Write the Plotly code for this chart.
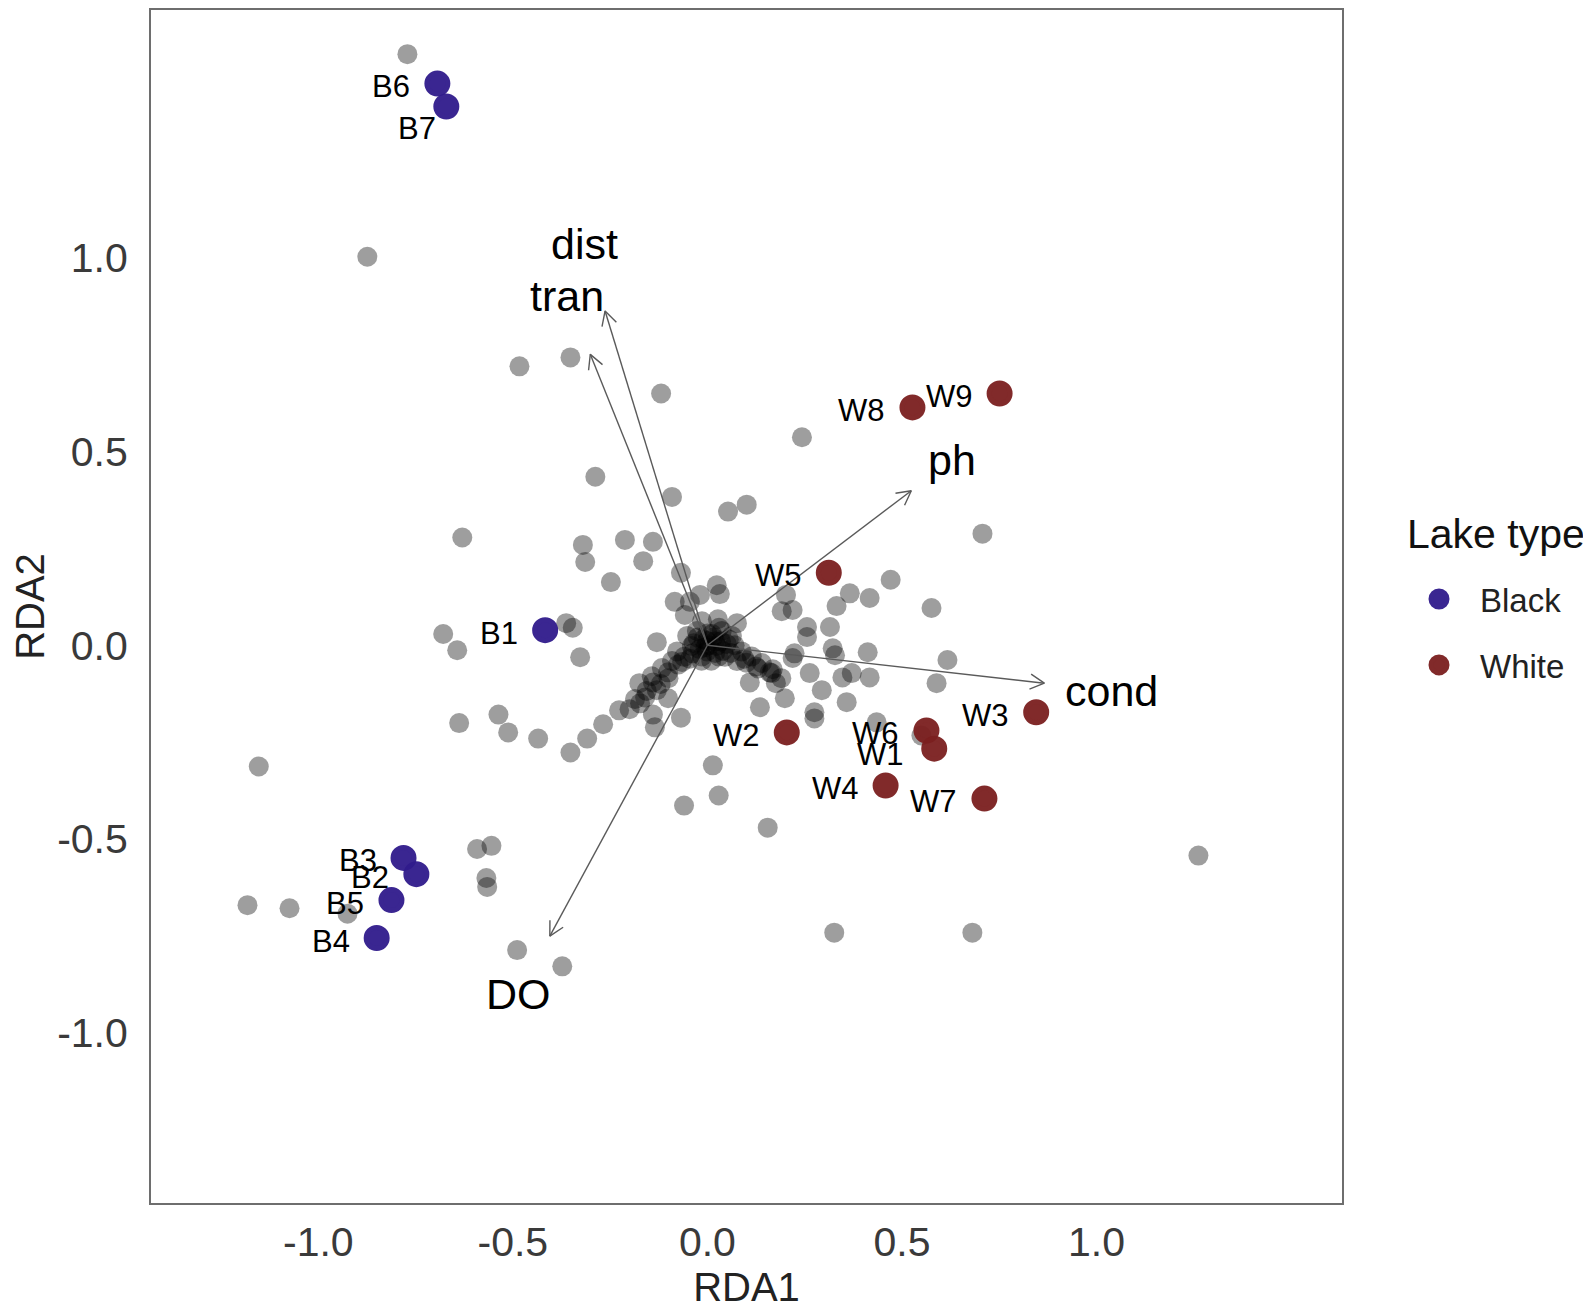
import numpy as np
import plotly.graph_objects as go

# species scores (grey points)
species_rda1 = [
    -0.771, -0.874, -0.483, -0.352, -0.119, 0.243, -0.288, -0.091, 0.053, 0.101,
    -0.630, -0.320, -0.314, -0.212, -0.140, -0.165, -0.248, -0.068, 0.707, 0.471,
    0.576, 0.366, 0.417, 0.332, 0.202, 0.191, 0.219, 0.256, 0.256, 0.315,
    0.322, 0.328, 0.412, 0.617, 0.589, 0.224, 0.263, 0.294, 0.347, 0.371,
    0.417, 0.358, 0.275, 0.275, 0.199, 0.135, 0.109, 0.165, 0.435, 0.550,
    0.014, 0.029, 0.155, -0.060, -0.140, -0.135, -0.068, -0.101, -0.679, -0.643,
    -0.363, -0.346, -0.327, -0.638, -0.537, -0.512, -0.435, -0.352, -0.309, -0.268,
    -0.227, -0.186, -0.175, -0.140, -0.101, -0.065, -1.153, -1.182, -1.074, -0.925,
    -0.592, -0.555, -0.568, -0.566, -0.489, -0.373, 1.262, 0.326, 0.681,
    -0.084, -0.045, -0.019, 0.024, 0.032, -0.058, -0.130, 0.027, 0.076, -0.027,
    -0.001, 0.024, 0.050, 0.088, 0.114, 0.140, -0.040, -0.078, -0.091, -0.117,
    -0.143, -0.001, 0.063, -0.014, 0.012, -0.156, -0.173, -0.130, -0.038, 0.168,
    0.219, 0.176, 0.037, -0.052, -0.014, 0.029, 0.076,
    0.005, 0.020, 0.040, -0.020, -0.010, 0.060, 0.030, -0.060, -0.075, -0.100,
    -0.120, -0.160, -0.200, 0.095, 0.125, 0.010, -0.035, 0.070, 0.100, 0.130,
    0.160, 0.190,
    0.015, -0.005, 0.035, 0.045, -0.025, 0.055, -0.045, 0.000, 0.020, -0.015,
]
species_rda2 = [
    1.526, 1.003, 0.720, 0.743, 0.650, 0.537, 0.435, 0.383, 0.345, 0.363,
    0.278, 0.259, 0.215, 0.272, 0.267, 0.217, 0.163, 0.187, 0.288, 0.169,
    0.096, 0.134, 0.122, 0.101, 0.130, 0.088, 0.091, 0.047, 0.021, 0.047,
    -0.008, -0.026, -0.018, -0.038, -0.098, -0.021, -0.072, -0.116, -0.083, -0.072,
    -0.083, -0.147, -0.173, -0.189, -0.137, -0.160, -0.096, -0.072, -0.199, -0.233,
    -0.310, -0.388, -0.471, -0.414, -0.179, -0.212, -0.187, -0.137, 0.029, -0.013,
    0.057, 0.045, -0.031, -0.201, -0.179, -0.225, -0.241, -0.277, -0.241, -0.204,
    -0.168, -0.139, -0.098, -0.096, -0.070, -0.043, -0.313, -0.671, -0.679, -0.693,
    -0.526, -0.518, -0.601, -0.624, -0.787, -0.829, -0.543, -0.742, -0.742,
    0.112, 0.112, 0.130, 0.155, 0.132, 0.078, 0.008, 0.067, 0.057, 0.037,
    0.011, -0.002, 0.003, -0.016, -0.029, -0.046, -0.002, -0.016, -0.041, -0.059,
    -0.080, -0.016, 0.024, 0.062, 0.029, -0.118, -0.150, -0.116, -0.021, -0.062,
    -0.033, -0.098, 0.037, 0.024, -0.029, -0.029, -0.041,
    0.000, 0.010, -0.015, -0.010, 0.015, -0.020, 0.045, -0.030, -0.050, -0.085,
    -0.100, -0.135, -0.165, -0.035, -0.055, -0.040, 0.005, 0.000, -0.045, -0.060,
    -0.070, -0.085,
    0.020, -0.005, 0.010, -0.030, 0.020, 0.015, -0.035, 0.030, -0.020, -0.040,
]

# site scores
site_names = ["B1", "B2", "B3", "B4", "B5", "B6", "B7",
              "W1", "W2", "W3", "W4", "W5", "W6", "W7", "W8", "W9"]
site_type = ["Black"] * 7 + ["White"] * 9
site_rda1 = [-0.417, -0.748, -0.781, -0.850, -0.812, -0.694, -0.671,
             0.583, 0.204, 0.845, 0.458, 0.312, 0.563, 0.712, 0.527, 0.751]
site_rda2 = [0.039, -0.591, -0.549, -0.756, -0.658, 1.450, 1.391,
             -0.267, -0.225, -0.173, -0.362, 0.187, -0.220, -0.396, 0.614, 0.650]

# environmental vectors
env_names = ["dist", "tran", "ph", "cond", "DO"]
env_rda1 = [-0.263, -0.301, 0.524, 0.866, -0.405]
env_rda2 = [0.863, 0.751, 0.399, -0.098, -0.751]

lake_types = ["Black", "White"]
lake_colors = {"Black": "#301b8c", "White": "#7b1f1f"}

W, H = 1591, 1313
margin = dict(l=143, r=257, t=0, b=118)
x_range = [-1.430, 1.631]
y_range = [-1.440, 1.640]
font_family = "Arial, Liberation Sans, sans-serif"

# label nudges in px (xshift, yshift), default left of the point
label_shift = {"B7": (-8, -22), "W1": (-28, -6)}

plot_w = W - margin["l"] - margin["r"]
plot_h = H - margin["t"] - margin["b"]

fig = go.Figure()

fig.add_trace(go.Scatter(
    x=species_rda1, y=species_rda2, mode="markers",
    marker=dict(color="black", opacity=0.38, size=20, line=dict(width=0)),
    showlegend=False, hoverinfo="skip",
))

# arrows with open heads, computed in pixel space
px_x = plot_w / (x_range[1] - x_range[0])
px_y = plot_h / (y_range[1] - y_range[0])
head_len, head_ang = 16.0, np.radians(28)
ax_, ay_ = [], []
for ex, ey in zip(env_rda1, env_rda2):
    tx, ty = ex * px_x, ey * px_y
    n = np.hypot(tx, ty)
    ux, uy = tx / n, ty / n
    wings = []
    for s in (1, -1):
        c, si = np.cos(s * head_ang), np.sin(s * head_ang)
        rx, ry = ux * c - uy * si, ux * si + uy * c
        wings.append(((tx - head_len * rx) / px_x, (ty - head_len * ry) / px_y))
    ax_ += [0, ex, None, wings[0][0], ex, wings[1][0], None]
    ay_ += [0, ey, None, wings[0][1], ey, wings[1][1], None]

fig.add_trace(go.Scatter(
    x=ax_, y=ay_, mode="lines",
    line=dict(color="#5a5a5a", width=1.4),
    showlegend=False, hoverinfo="skip",
))

for lt in lake_types:
    idx = [i for i, t in enumerate(site_type) if t == lt]
    fig.add_trace(go.Scatter(
        x=[site_rda1[i] for i in idx], y=[site_rda2[i] for i in idx],
        mode="markers", name=lt, legendgroup=lt,
        marker=dict(color=lake_colors[lt], size=21, opacity=0.95,
                    line=dict(width=5, color=lake_colors[lt])),
    ))

annotations = []
for name, sx, sy in zip(site_names, site_rda1, site_rda2):
    dx, dy = label_shift.get(name, (-25, -3))
    annotations.append(dict(
        x=sx, y=sy, xref="x", yref="y", text=name, showarrow=False,
        xanchor="right", yanchor="middle", xshift=dx, yshift=dy,
        font=dict(family=font_family, size=31, color="black"),
    ))
for name, ex, ey in zip(env_names, env_rda1, env_rda2):
    annotations.append(dict(
        x=ex * 1.2, y=ey * 1.2, xref="x", yref="y", text=name, showarrow=False,
        xanchor="center", yanchor="middle",
        font=dict(family=font_family, size=43, color="black"),
    ))

# legend title placed by hand so the gap to the items matches
annotations.append(dict(
    x=(1397 - margin["l"]) / plot_w, y=(H - margin["b"] - 525) / plot_h,
    xref="paper", yref="paper", text="Lake type", showarrow=False,
    xanchor="left", yanchor="middle",
    font=dict(family=font_family, size=41, color="#111"),
))

ticks = [-1.0, -0.5, 0.0, 0.5, 1.0]
tick_text = ["%.1f" % t for t in ticks]
axis_common = dict(
    showgrid=False, zeroline=False, showline=True, mirror=True,
    linecolor="#6e6e6e", linewidth=2,
    ticks="outside", tickcolor="rgba(0,0,0,0)",
    tickvals=ticks, ticktext=tick_text,
    tickfont=dict(family=font_family, size=41, color="#3a3a3a"),
)

fig.update_layout(
    width=W, height=H,
    margin=margin,
    paper_bgcolor="white", plot_bgcolor="white",
    font=dict(family=font_family, color="black"),
    xaxis=dict(range=x_range, ticklen=2,
               title=dict(text="RDA1", standoff=9,
                          font=dict(family=font_family, size=40, color="#222")),
               **axis_common),
    yaxis=dict(range=y_range, ticklen=13,
               title=dict(text="RDA2", standoff=16,
                          font=dict(family=font_family, size=40, color="#222")),
               **axis_common),
    legend=dict(
        font=dict(family=font_family, size=33, color="#222"),
        x=(1390 - margin["l"]) / plot_w, y=(H - margin["b"] - 562) / plot_h,
        xanchor="left", yanchor="top",
        itemwidth=72, tracegroupgap=20, bgcolor="rgba(0,0,0,0)",
    ),
    annotations=annotations,
)

fig.write_html("out.html")
